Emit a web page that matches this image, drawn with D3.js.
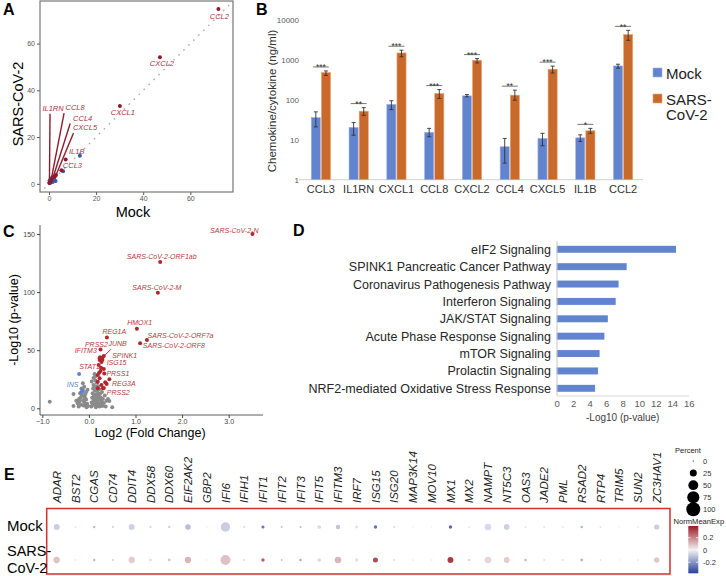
<!DOCTYPE html>
<html><head><meta charset="utf-8">
<script src="https://cdn.jsdelivr.net/npm/d3@7"></script>
<style>body{margin:0;background:#fff}svg{display:block}text{font-family:"Liberation Sans",Arial,sans-serif}</style>
</head><body><svg id="c" width="726" height="576"></svg>
<script>
// ---------------- DATA ----------------
// Panel A (scatter Mock vs SARS-CoV-2)
const aGenes = ["CCL2","CXCL2","CXCL1","IL1B","CCL3","IL1RN","CCL8","CCL4","CXCL5"];
const aMock  = [71.9, 47.1, 30.1, 7.1, 5.3, 0.2, 0.9, 1.8, 3.0];
const aSars  = [74.8, 54.1, 33.3, 10.4, 5.8, 0.5, 1.6, 2.9, 3.8];
const aRedMock = [0.2, 1.5, 2.5, 0.6];
const aRedSars = [0.4, 2.6, 3.1, 1.0];
const aBlueMock = [13.1, 6.0, 0.5, 1.0, 1.6, 2.2, 1.2, 0.3, 2.8];
const aBlueSars = [12.0, 5.4, 0.3, 1.2, 0.8, 2.0, 2.5, 1.5, 1.2];
const aTicks = [0, 20, 40, 60];

// Panel B (bar chart, log scale)
const bCats   = ["CCL3","IL1RN","CXCL1","CCL8","CXCL2","CCL4","CXCL5","IL1B","CCL2"];
const bSeries = ["Mock","SARS-CoV-2"];
const bMock   = [36, 20.4, 77, 15.3, 126, 6.7, 10.8, 11.2, 708];
const bMockLo = [21, 13, 57, 11.9, 119, 2.6, 7.1, 9.1, 620];
const bMockHi = [50, 27, 95, 19.3, 136, 10.8, 14.5, 13.3, 780];
const bSars   = [484, 52, 1496, 145, 983, 131, 586, 16.8, 4315];
const bSarsLo = [410, 41, 1200, 108, 840, 98, 470, 14.5, 3100];
const bSarsHi = [530, 64, 1750, 181, 1080, 175, 700, 19.3, 5500];
const bSig    = ["***","**","***","***","***","**","***","*","**"];
const bTicks  = [1, 10, 100, 1000, 10000];

// Panel C (volcano)
const cGrayFc = [-0.84,-0.33,-0.33,-0.24,-0.22,-0.2,-0.18,-0.17,-0.15,-0.14,-0.13,-0.12,-0.11,-0.1,-0.09,-0.08,-0.07,-0.06,-0.05,-0.04,-0.03,-0.02,-0.19,-0.16,-0.1,-0.06,-0.21,-0.27,
  0.05,0.06,0.07,0.08,0.08,0.09,0.1,0.1,0.11,0.12,0.12,0.13,0.13,0.14,0.15,0.15,0.16,0.16,0.17,0.17,0.18,0.18,0.19,0.2,0.2,0.21,0.21,0.22,0.23,0.23,0.24,0.25,0.26,0.27,0.28,0.29,0.3,0.32,0.34,0.36,0.38,0.41,0.44,0.5,0.1,0.14,0.06];
const cGrayP  = [5.7,2,12.3,4.3,1.5,6,9,3,11,14.3,21.5,7,2.5,5,9.5,12,3.5,7.5,1,4,16,2,13,17,18.5,14,8,6.5,
  1.5,5,9,13,2.8,17,6.5,20,11,29.5,3.5,15,8,24,1,18.5,5.5,12,22,9.5,2.5,15.5,7,13,19,4,10.5,16.5,1.5,7.5,12.5,3,9,5.5,14,2,8,4.5,11,1.5,6.5,8,6.3,1,26,27.5,23];
const cRedFc = [0.19,0.23,0.19,0.27,0.3,0.19,0.23,0.27,0.21,0.32,0.38,0.26,0.22,0.35,0.24];
const cRedP  = [28.7,25.8,22.9,20,17.2,17.2,41.6,39.8,37.3,33.8,21,35,30.5,22.5,44];
const cLabGenes = ["SARS-CoV-2-N","SARS-CoV-2-ORF1ab","SARS-CoV-2-M","HMOX1","REG1A","SARS-CoV-2-ORF7a","SARS-CoV-2-ORF8","IFITM3","PRSS2","JUNB","SPINK1","ISG15","STAT1","PRSS1","REG3A","PRSS2"];
const cLabFc = [3.51,1.53,1.48,1.03,0.386,1.245,1.10,0.25,0.23,0.29,0.32,0.29,0.25,0.33,0.44,0.32];
const cLabP  = [150,125.9,99.5,68.5,61,58.8,55.9,50.7,43,43.5,45,41.5,32,30,25,17.5];
const cBlueGenes = ["INS","",""];
const cBlueFc = [-0.13,-0.21,-0.16];
const cBlueP  = [15.7,29.5,14];
const cXTicks = [-1,0,1,2,3];
const cYTicks = [0,50,100,150];

// Panel D (pathways)
const dPaths = ["eIF2 Signaling","SPINK1 Pancreatic Cancer Pathway","Coronavirus Pathogenesis Pathway","Interferon Signaling","JAK/STAT Signaling","Acute Phase Response Signaling","mTOR Signaling","Prolactin Signaling","NRF2-mediated Oxidative Stress Response"];
const dVals  = [14.46, 8.48, 7.5, 7.15, 6.2, 5.78, 5.2, 5.0, 4.65];
const dTicks = [0,2,4,6,8,10,12,14,16];

// Panel E (dot plot)
const eGenes = ["ADAR","BST2","CGAS","CD74","DDIT4","DDX58","DDX60","EIF2AK2","GBP2","IFI6","IFIH1","IFIT1","IFIT2","IFIT3","IFIT5","IFITM3","IRF7","ISG15","ISG20","MAP3K14","MOV10","MX1","MX2","NAMPT","NT5C3","OAS3","JADE2","PML","RSAD2","RTP4","TRIM5","SUN2","ZC3HAV1"];
const eRows = ["Mock","SARS-CoV-2"];
const eMockPct = [18,2,3,3,18,3,3,16,1,45,2,5,2,2,7,10,4,6,2,1,1,6,1.5,22,17,1.5,2,2,3,1.5,1,1.5,14];
const eMockExp = [-0.08,-0.02,-0.12,-0.05,-0.07,-0.05,-0.07,-0.11,-0.03,-0.08,-0.05,-0.26,-0.1,-0.12,-0.05,-0.1,-0.04,-0.27,-0.05,-0.02,-0.02,-0.29,-0.05,-0.05,-0.07,-0.05,-0.03,-0.03,-0.13,-0.05,-0.02,-0.03,-0.08];
const eSarsPct = [20,2,3,3,20,3,4,20,1,50,2,6,2,3,7,22,6,13,2,1.5,1.5,18,2.5,22,17,3,2,2.5,4,1.5,1,1.5,15];
const eSarsExp = [0.09,0.02,0.12,0.05,0.07,0.05,0.08,0.11,0.03,0.09,0.05,0.26,0.1,0.15,0.05,0.11,0.04,0.3,0.05,0.02,0.02,0.33,0.08,0.05,0.07,0.12,0.04,0.04,0.13,0.05,0.02,0.04,0.08];
const ePctLegend = [0,25,50,75,100];
const eExpTicks = [0.2,0,-0.2];

// ---------------- DRAW ----------------
const svg = d3.select("#c");
const FONT = '"Liberation Sans",Arial,sans-serif';
function letter(t,x,y){svg.append("text").attr("x",x).attr("y",y).attr("font-size",16).attr("font-weight","bold").attr("fill","#000").text(t);}
function styleAxis(g, col, fs){
  g.select(".domain").remove();
  g.selectAll(".tick line").attr("stroke",col);
  g.selectAll(".tick text").attr("fill",col).attr("font-size",fs).attr("font-family",FONT);
}

// ===== Panel A =====
letter("A",3,15);
const xA = d3.scaleLinear().domain([-3.8,78.1]).range([40,233]);
const yA = d3.scaleLinear().domain([-3.5,78.2]).range([192,1]);
const gA = svg.append("g");
gA.append("line").attr("x1",xA(-2)).attr("y1",yA(-2)).attr("x2",xA(77)).attr("y2",yA(77))
  .attr("stroke","#b0b0b0").attr("stroke-width",1.5).attr("stroke-dasharray","1.6,5.4");
const axAx = gA.append("g").attr("transform","translate(0,192)").call(d3.axisBottom(xA).tickValues(aTicks).tickSize(3).tickPadding(1));
styleAxis(axAx,"#555",7);
const axAy = gA.append("g").attr("transform","translate(40,0)").call(d3.axisLeft(yA).tickValues(aTicks).tickSize(3).tickPadding(2));
styleAxis(axAy,"#555",7);
gA.append("rect").attr("x",40).attr("y",1).attr("width",193).attr("height",191).attr("fill","none").attr("stroke","#777").attr("stroke-width",1.2);
const aRed="#8e1b2c", aLab="#a6353f", aBlue="#3b55b0";
// label layout (pixel offsets from point): [dx, dy(baseline), segment start dx, segment start dy]
const aLabelLayout = [[1,10],[2,8.5],[3,9],[11,-6],[11,-2.5],[3.6,-72,0.6,-69],[24,-70,13,-67],[29.5,-56,17,-53.5],[29,-45,17.5,-42]];
aGenes.forEach((g,i)=>{
  const px=xA(aMock[i]), py=yA(aSars[i]); const L=aLabelLayout[i];
  if(L.length>2){gA.append("line").attr("x1",px+L[2]).attr("y1",py+L[3]).attr("x2",px).attr("y2",py).attr("stroke",aRed).attr("stroke-width",1.4);}
});
aBlueMock.forEach((m,i)=>gA.append("circle").attr("cx",xA(m)).attr("cy",yA(aBlueSars[i])).attr("r",2).attr("fill",aBlue));
aRedMock.forEach((m,i)=>gA.append("circle").attr("cx",xA(m)).attr("cy",yA(aRedSars[i])).attr("r",2).attr("fill",aRed));
aGenes.forEach((g,i)=>{
  const px=xA(aMock[i]), py=yA(aSars[i]); const L=aLabelLayout[i];
  gA.append("circle").attr("cx",px).attr("cy",py).attr("r",2).attr("fill",aRed);
  gA.append("text").attr("x",px+L[0]).attr("y",py+L[1]).attr("text-anchor","middle").attr("font-size",7.5).attr("font-style","italic").attr("fill",aLab).text(g);
});
svg.append("text").attr("transform","translate(23,104) rotate(-90)").attr("text-anchor","middle").attr("font-size",14.5).attr("fill","#000").text("SARS-CoV-2");
svg.append("text").attr("x",133).attr("y",217).attr("text-anchor","middle").attr("font-size",14.5).attr("fill","#000").text("Mock");

// ===== Panel B =====
letter("B",256,15);
const cBlue="#6284cf", cOrange="#c86a2c";
const xB = d3.scaleBand().domain(bCats).range([302,642]);
const xSub = d3.scaleBand().domain(bSeries).range([xB.bandwidth()*0.245,xB.bandwidth()*0.755]).paddingInner(0.1);
const yB = d3.scaleLog().domain([1,10000]).range([179.7,20]);
const gB = svg.append("g");
const axBy = gB.append("g").attr("transform","translate(302,0)").call(d3.axisLeft(yB).tickValues(bTicks).tickFormat(d3.format("d")).tickSize(0).tickPadding(3));
styleAxis(axBy,"#595959",8);
gB.append("line").attr("x1",299).attr("x2",643).attr("y1",179.7).attr("y2",179.7).attr("stroke","#d0d0d0").attr("stroke-width",1);
const axBx = gB.append("g").attr("transform","translate(0,180)").call(d3.axisBottom(xB).tickSize(0).tickPadding(4));
styleAxis(axBx,"#333",11);
axBx.selectAll(".tick text").attr("dy","0.8em");
const bSets=[[bMock,bMockLo,bMockHi,cBlue,"#9fb4e3"],[bSars,bSarsLo,bSarsHi,cOrange,"#eba577"]];
bCats.forEach((c,i)=>{
  bSets.forEach((s,j)=>{
    const x0 = xB(c)+xSub(bSeries[j]), w=xSub.bandwidth();
    gB.append("rect").attr("x",x0).attr("y",yB(s[0][i])).attr("width",w).attr("height",179.7-yB(s[0][i])).attr("fill",s[3]).attr("stroke",s[4]).attr("stroke-width",0.6);
    const cx=x0+w/2;
    gB.append("line").attr("x1",cx).attr("x2",cx).attr("y1",yB(s[1][i])).attr("y2",yB(s[2][i])).attr("stroke","#333").attr("stroke-width",0.9);
    [s[1][i],s[2][i]].forEach(v=>gB.append("line").attr("x1",cx-2).attr("x2",cx+2).attr("y1",yB(v)).attr("y2",yB(v)).attr("stroke","#333").attr("stroke-width",0.9));
  });
  const gc = xB(c)+xB.bandwidth()/2, ly = yB(bSarsHi[i])-4;
  gB.append("line").attr("x1",gc-8).attr("x2",gc+8).attr("y1",ly).attr("y2",ly).attr("stroke","#555").attr("stroke-width",0.8);
  gB.append("text").attr("x",gc).attr("y",ly+3.2).attr("text-anchor","middle").attr("font-size",8.5).attr("fill","#333").text(bSig[i]);
});
svg.append("text").attr("transform","translate(276,101) rotate(-90)").attr("text-anchor","middle").attr("font-size",11.5).attr("fill","#333").text("Chemokine/cytokine (ng/ml)");
const legB = svg.append("g");
[[cBlue,"#9fb4e3",68,["Mock"],79],[cOrange,"#eba577",94,["SARS-","CoV-2"],104.5]].forEach(L=>{
  legB.append("rect").attr("x",653).attr("y",L[2]).attr("width",9).attr("height",9).attr("fill",L[0]).attr("stroke",L[1]).attr("stroke-width",0.6);
  L[3].forEach((t,k)=>legB.append("text").attr("x",666).attr("y",L[4]+k*15.5).attr("font-size",15).attr("fill","#222").text(t));
});

// ===== Panel C =====
letter("C",3,237);
const xC = d3.scaleLinear().domain([-1,3]).range([42.3,228.7]);
const yC = d3.scaleLinear().domain([0,150]).range([408.3,234]);
const gC = svg.append("g");
gC.append("line").attr("x1",40).attr("x2",40).attr("y1",225).attr("y2",415).attr("stroke","#333").attr("stroke-width",0.8);
gC.append("line").attr("x1",40).attr("x2",263).attr("y1",415).attr("y2",415).attr("stroke","#333").attr("stroke-width",0.8);
const axCx = gC.append("g").attr("transform","translate(0,415)").call(d3.axisBottom(xC).tickValues(cXTicks).tickSize(3).tickPadding(1));
styleAxis(axCx,"#444",7);
const axCy = gC.append("g").attr("transform","translate(40,0)").call(d3.axisLeft(yC).tickValues(cYTicks).tickSize(3).tickPadding(2));
styleAxis(axCy,"#444",7);
const cRedCol="#b0262b", cLabCol="#b33a3e", cBlueCol="#5a84d0", cGrayCol="#8a8a8a";
cGrayFc.forEach((f,i)=>gC.append("circle").attr("cx",xC(f)).attr("cy",yC(cGrayP[i])).attr("r",2).attr("fill",cGrayCol));
cBlueFc.forEach((f,i)=>gC.append("circle").attr("cx",xC(f)).attr("cy",yC(cBlueP[i])).attr("r",2).attr("fill",cBlueCol));
cRedFc.forEach((f,i)=>gC.append("circle").attr("cx",xC(f)).attr("cy",yC(cRedP[i])).attr("r",2).attr("fill",cRedCol));
// label layout: [anchor, dx, dy(baseline)] in pixels relative to point
const cLabelLayout = [["end",6,-1],["middle",1.5,-3],["middle",-1,-2.7],["middle",2.7,-3.7],["middle",7.4,-3.4],["start",0.7,-1.5],["start",2.7,4.7],["end",-3.7,4],["middle",-3.2,-11.8],["middle",15.2,-11.3],["middle",20.8,1.5],["middle",14.2,4.9],["middle",-11,-2.1],["middle",13.6,2.1],["middle",14.4,7.2],["middle",14.5,7]];
cLabGenes.forEach((g,i)=>{
  const px=xC(cLabFc[i]), py=yC(cLabP[i]);
  if(g==="JUNB"){gC.append("line").attr("x1",px+8.5).attr("y1",py-8.5).attr("x2",px).attr("y2",py).attr("stroke",cRedCol).attr("stroke-width",1);}
  gC.append("circle").attr("cx",px).attr("cy",py).attr("r",2).attr("fill",cRedCol);
});
cLabGenes.forEach((g,i)=>{
  const px=xC(cLabFc[i]), py=yC(cLabP[i]); const L=cLabelLayout[i];
  gC.append("text").attr("x",px+L[1]).attr("y",py+L[2]).attr("text-anchor",L[0]).attr("font-size",7).attr("font-style","italic").attr("fill",cLabCol).text(g);
});
gC.append("text").attr("x",xC(cBlueFc[0])-10.2).attr("y",yC(cBlueP[0])-2.6).attr("text-anchor","middle").attr("font-size",7).attr("font-style","italic").attr("fill",cBlueCol).text(cBlueGenes[0]);
svg.append("text").attr("transform","translate(18,320) rotate(-90)").attr("text-anchor","middle").attr("font-size",12.5).attr("fill","#000").text("-Log10 (p-value)");
svg.append("text").attr("x",150).attr("y",437).attr("text-anchor","middle").attr("font-size",12.5).attr("fill","#000").text("Log2 (Fold Change)");

// ===== Panel D =====
letter("D",293,236);
const xD = d3.scaleLinear().domain([0,16]).range([556.7,688.7]);
const yD = d3.scaleBand().domain(dPaths).range([240.6,397]).paddingInner(0.6).paddingOuter(0.3);
const gD = svg.append("g");
dPaths.forEach((p,i)=>{
  gD.append("rect").attr("x",xD(0)).attr("y",yD(p)).attr("width",xD(dVals[i])-xD(0)).attr("height",yD.bandwidth()).attr("fill",cBlue);
  gD.append("text").attr("x",551).attr("y",yD(p)+yD.bandwidth()/2).attr("dy","0.36em").attr("text-anchor","end").attr("font-size",12.5).attr("fill","#262626").text(p);
});
gD.append("line").attr("x1",557).attr("x2",557).attr("y1",241).attr("y2",396).attr("stroke","#c8c8c8").attr("stroke-width",1);
gD.append("line").attr("x1",557).attr("x2",689).attr("y1",396).attr("y2",396).attr("stroke","#d9d9d9").attr("stroke-width",1);
const axD = gD.append("g").attr("transform","translate(0,397)").call(d3.axisBottom(xD).tickValues(dTicks).tickSize(0).tickPadding(3));
styleAxis(axD,"#595959",9.5);
svg.append("text").attr("x",622.7).attr("y",421).attr("text-anchor","middle").attr("font-size",10).attr("fill","#404040").text("-Log10 (p-value)");

// ===== Panel E =====
letter("E",4,480);
const xE = d3.scalePoint().domain(eGenes).range([56.7,656.7]);
const yE = d3.scalePoint().domain(eRows).range([527,560]);
const rE = d3.scaleSqrt().domain([0,100]).range([0,7]);
const cE = d3.scaleLinear().domain([-0.38,0,0.39]).range(["#26409a","#f3f3f3","#9c1a24"]);
const gE = svg.append("g");
eGenes.forEach(g=>{
  gE.append("text").attr("transform",`translate(${xE(g)},503) rotate(-90)`).attr("dy","0.36em").attr("text-anchor","start").attr("font-size",11.5).attr("font-style","italic").attr("fill","#222").text(g);
});
[[eMockPct,eMockExp],[eSarsPct,eSarsExp]].forEach((s,j)=>{
  eGenes.forEach((g,i)=>{
    gE.append("circle").attr("cx",xE(g)).attr("cy",yE(eRows[j])).attr("r",Math.max(0.7,rE(s[0][i]))).attr("fill",cE(s[1][i]));
  });
});
gE.append("rect").attr("x",46.7).attr("y",508.5).attr("width",623.3).attr("height",65.5).attr("fill","none").attr("stroke","#d32f2f").attr("stroke-width",1.5);
svg.append("text").attr("x",7).attr("y",531).attr("font-size",15).attr("fill","#000").text("Mock");
svg.append("text").attr("x",7).attr("y",556).attr("font-size",14.5).attr("fill","#000").text("SARS-");
svg.append("text").attr("x",7).attr("y",572.5).attr("font-size",14.5).attr("fill","#000").text("CoV-2");
// size legend
svg.append("text").attr("x",675).attr("y",453).attr("font-size",7.5).attr("fill","#222").text("Percent");
const legY = d3.scalePoint().domain(ePctLegend).range([461,509.3]);
ePctLegend.forEach(p=>{
  svg.append("circle").attr("cx",693.3).attr("cy",legY(p)).attr("r",Math.max(0.6,rE(p))).attr("fill","#000");
  svg.append("text").attr("x",703).attr("y",legY(p)).attr("dy","0.35em").attr("font-size",7.5).attr("fill","#333").text(p);
});
// colour legend
svg.append("text").attr("x",673.5).attr("y",524).attr("font-size",7.6).attr("fill","#222").text("NormMeanExp");
const yCb = d3.scaleLinear().domain([0.39,-0.38]).range([526,573.3]);
const defs = svg.append("defs");
const grad = defs.append("linearGradient").attr("id","cbar").attr("x1",0).attr("y1",0).attr("x2",0).attr("y2",1);
d3.range(0,1.0001,0.05).forEach(t=>{const v=0.39-t*0.77; grad.append("stop").attr("offset",t).attr("stop-color",cE(v));});
svg.append("rect").attr("x",688.3).attr("y",526).attr("width",10).attr("height",47.3).attr("fill","url(#cbar)");
eExpTicks.forEach(v=>{
  svg.append("line").attr("x1",688.3).attr("x2",690.5).attr("y1",yCb(v)).attr("y2",yCb(v)).attr("stroke","#fff").attr("stroke-width",0.8);
  svg.append("line").attr("x1",696.1).attr("x2",698.3).attr("y1",yCb(v)).attr("y2",yCb(v)).attr("stroke","#fff").attr("stroke-width",0.8);
  svg.append("text").attr("x",703).attr("y",yCb(v)).attr("dy","0.35em").attr("font-size",7.5).attr("fill","#333").text(v);
});
</script></body></html>
